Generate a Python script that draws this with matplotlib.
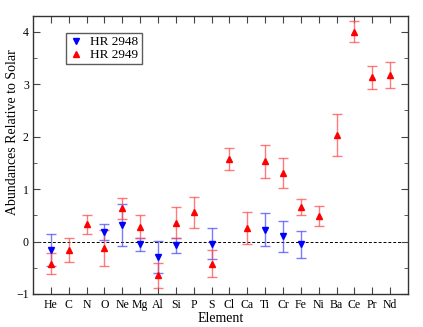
import matplotlib
matplotlib.use("Agg")
import matplotlib.pyplot as plt
from matplotlib.ticker import MultipleLocator

plt.rcParams['font.family'] = ['Liberation Serif', 'DejaVu Serif']

elements = ["He", "C", "N", "O", "Ne", "Mg", "Al", "Si", "P", "S",
            "Cl", "Ca", "Ti", "Cr", "Fe", "Ni", "Ba", "Ce", "Pr", "Nd"]

# HR 2948 (blue)
hr2948_el = ["He", "O", "Ne", "Mg", "Al", "Si", "S", "Ti", "Cr", "Fe"]
hr2948_val = [-0.16, 0.18, 0.32, -0.055, -0.295, -0.07, -0.04, 0.225, 0.10, -0.055]
hr2948_err = [0.30, 0.15, 0.40, 0.12, 0.30, 0.14, 0.30, 0.31, 0.30, 0.26]

# HR 2949 (red)
hr2949_el = elements
hr2949_val = [-0.42, -0.16, 0.33, -0.125, 0.63, 0.285, -0.645, 0.36, 0.555, -0.42,
              1.565, 0.26, 1.53, 1.305, 0.66, 0.495, 2.035, 4.00, 3.135, 3.17]
hr2949_err = [0.20, 0.23, 0.18, 0.34, 0.20, 0.22, 0.24, 0.29, 0.30, 0.25,
              0.21, 0.30, 0.31, 0.28, 0.16, 0.19, 0.40, 0.20, 0.22, 0.25]

pos = {e: i + 1 for i, e in enumerate(elements)}

fig = plt.figure(figsize=(4.23, 3.27), dpi=100)
ax = fig.add_axes([0.078, 0.101, 0.8865, 0.85])

ax.axhline(0, color='black', ls=(0, (3, 2)), lw=0.7, zorder=1)

x2 = [pos[e] for e in hr2948_el]
ax.errorbar(x2, hr2948_val, yerr=hr2948_err, fmt='none', ecolor=(0.3, 0.3, 1.0, 0.75),
            elinewidth=1.0, capsize=3.5, capthick=1.0, zorder=2)
ax.plot(x2, hr2948_val, 'v', color='blue', markersize=5, zorder=3, label='HR 2948')

x3 = [pos[e] for e in hr2949_el]
ax.errorbar(x3, hr2949_val, yerr=hr2949_err, fmt='none', ecolor=(1.0, 0.3, 0.3, 0.75),
            elinewidth=1.0, capsize=3.5, capthick=1.0, zorder=2)
ax.plot(x3, hr2949_val, '^', color='red', markersize=5, zorder=4, label='HR 2949')

ax.set_xlim(0, 21)
ax.set_ylim(-1, 4.3)
ax.set_xticks(range(1, len(elements) + 1))
ax.set_xticklabels(elements, fontsize=8.5)
ax.yaxis.set_major_locator(MultipleLocator(1))
ax.yaxis.set_minor_locator(MultipleLocator(0.5))
ax.tick_params(axis='both', which='both', direction='in', top=True, right=True,
               color='#444444')
ax.tick_params(axis='both', which='major', length=5, labelsize=8.5)
ax.tick_params(axis='y', which='major', pad=3)
ax.tick_params(axis='y', which='minor', length=3)
for s in ax.spines.values():
    s.set_linewidth(1.0)
    s.set_color('#333333')

ax.set_xlabel('Element', fontsize=10, labelpad=1)
ax.set_ylabel('Abundances Relative to Solar', fontsize=10)
ax.yaxis.set_label_coords(-0.037, 0.583)

leg = ax.legend(loc='upper left', bbox_to_anchor=(0.088, 0.94), fontsize=9.5,
                frameon=True, fancybox=False, handlelength=1.0, handletextpad=0.6,
                borderpad=0.25, labelspacing=0.05, borderaxespad=0)
leg.get_frame().set_edgecolor('#333333')
leg.get_frame().set_linewidth(1.0)

fig.savefig('out.png', dpi=100)
